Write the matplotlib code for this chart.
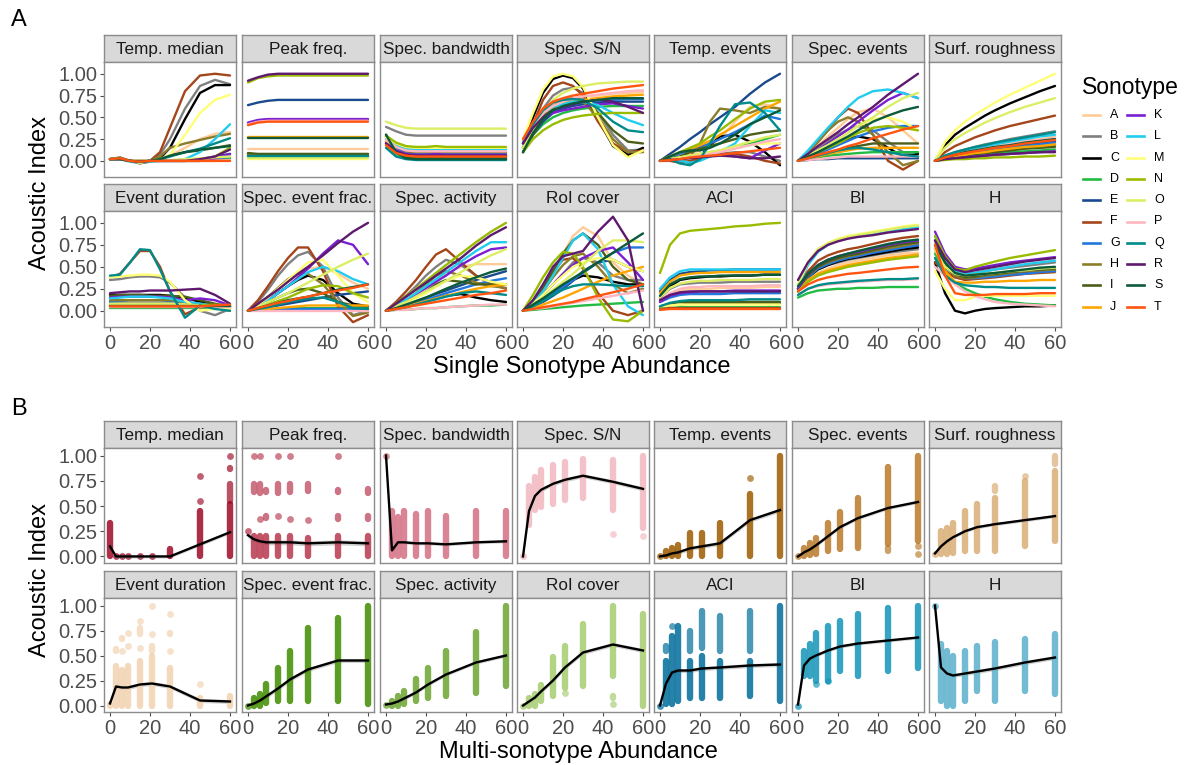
import matplotlib
matplotlib.use("Agg")
import matplotlib.pyplot as plt

plt.rcParams['font.family'] = ['Liberation Sans', 'DejaVu Sans']

W, H = 1185, 765

# Sonotipos y colores
sonotypes = list("ABCDEFGHIJKLMNOPQRST")
sonotype_colors = ["#FFCC99", "#808080", "#000000", "#22BB44", "#1A4A8E", "#A5451A",
                   "#2277DD", "#8B7D2A", "#4B5E1A", "#FFA500", "#7B1FD0", "#22CCEE",
                   "#FFFF77", "#99BB00", "#DDEE66", "#FFB6C1", "#008B8B", "#5E1A6E",
                   "#0B5A3A", "#FF5511"]

index_names = ["Temp. median", "Peak freq.", "Spec. bandwidth", "Spec. S/N", "Temp. events",
               "Spec. events", "Surf. roughness", "Event duration", "Spec. event frac.",
               "Spec. activity", "RoI cover", "ACI", "BI", "H"]

# ---- Panel A: curvas por sonotipo (A..T), valores en abund_single ----
abund_single = [0, 5, 10, 15, 20, 25, 30, 37.5, 45, 52.5, 60]

a_temp_median = [
    [0.02, 0.03, 0.0, -0.01, 0.0, 0.02, 0.06, 0.15, 0.25, 0.31, 0.33],
    [0.02, 0.03, 0.0, -0.02, 0.0, 0.07, 0.25, 0.6, 0.86, 0.93, 0.88],
    [0.02, 0.03, 0.0, -0.02, -0.01, 0.03, 0.15, 0.48, 0.78, 0.87, 0.87],
    [0.02, 0.02, 0.0, 0.0, 0.0, 0.0, 0.0, 0.0, 0.01, 0.02, 0.03],
    [0.02, 0.02, 0.0, -0.01, 0.0, 0.0, 0.0, 0.0, 0.02, 0.05, 0.08],
    [0.02, 0.04, 0.0, -0.03, 0.0, 0.1, 0.38, 0.8, 0.98, 1.0, 0.98],
    [0.02, 0.02, 0.0, -0.01, 0.0, 0.0, 0.0, 0.0, 0.0, 0.02, 0.05],
    [0.02, 0.03, 0.0, -0.02, 0.0, 0.05, 0.15, 0.2, 0.24, 0.28, 0.31],
    [0.02, 0.02, 0.0, -0.01, 0.0, 0.02, 0.06, 0.1, 0.12, 0.15, 0.18],
    [0.02, 0.02, 0.0, 0.0, 0.0, 0.0, 0.0, 0.0, 0.0, 0.0, 0.0],
    [0.02, 0.02, 0.0, 0.0, 0.0, 0.0, 0.0, 0.0, 0.0, 0.03, 0.08],
    [0.02, 0.02, -0.01, -0.02, -0.01, 0.0, 0.0, 0.02, 0.1, 0.25, 0.42],
    [0.02, 0.03, 0.0, -0.02, 0.0, 0.02, 0.07, 0.3, 0.55, 0.7, 0.76],
    [0.02, 0.02, 0.0, 0.0, 0.0, 0.0, 0.0, 0.0, 0.0, 0.05, 0.15],
    [0.02, 0.02, 0.0, 0.0, 0.0, 0.0, 0.01, 0.02, 0.03, 0.04, 0.05],
    [0.02, 0.02, 0.0, 0.0, 0.0, 0.0, 0.0, 0.0, 0.0, 0.0, 0.01],
    [0.02, 0.03, 0.0, -0.01, 0.0, 0.02, 0.05, 0.1, 0.14, 0.2, 0.26],
    [0.02, 0.02, 0.0, -0.01, 0.0, 0.0, 0.0, 0.0, 0.02, 0.05, 0.13],
    [0.02, 0.02, 0.0, -0.01, 0.0, 0.02, 0.06, 0.1, 0.13, 0.15, 0.17],
    [0.02, 0.03, 0.0, -0.01, 0.0, 0.0, 0.0, 0.0, 0.0, 0.0, 0.0],
]

a_peak_freq = [
    [0.14, 0.14, 0.14, 0.14, 0.14, 0.14, 0.14, 0.14, 0.14, 0.14, 0.14],
    [0.07, 0.06, 0.05, 0.05, 0.05, 0.05, 0.05, 0.05, 0.05, 0.05, 0.05],
    [0.08, 0.07, 0.06, 0.06, 0.06, 0.06, 0.06, 0.06, 0.06, 0.06, 0.06],
    [0.06, 0.06, 0.06, 0.06, 0.06, 0.06, 0.06, 0.06, 0.06, 0.06, 0.06],
    [0.64, 0.67, 0.69, 0.7, 0.7, 0.7, 0.7, 0.7, 0.7, 0.7, 0.7],
    [0.07, 0.05, 0.04, 0.04, 0.04, 0.04, 0.04, 0.04, 0.04, 0.04, 0.04],
    [0.43, 0.46, 0.47, 0.47, 0.47, 0.47, 0.47, 0.47, 0.47, 0.47, 0.47],
    [0.08, 0.07, 0.07, 0.07, 0.07, 0.07, 0.07, 0.07, 0.07, 0.07, 0.07],
    [0.09, 0.08, 0.08, 0.08, 0.08, 0.08, 0.08, 0.08, 0.08, 0.08, 0.08],
    [0.27, 0.27, 0.27, 0.27, 0.27, 0.27, 0.27, 0.27, 0.27, 0.27, 0.27],
    [0.44, 0.47, 0.48, 0.48, 0.48, 0.48, 0.48, 0.48, 0.48, 0.48, 0.48],
    [0.04, 0.04, 0.04, 0.04, 0.04, 0.04, 0.04, 0.04, 0.04, 0.04, 0.04],
    [0.02, 0.02, 0.02, 0.02, 0.02, 0.02, 0.02, 0.02, 0.02, 0.02, 0.02],
    [0.9, 0.95, 0.97, 0.98, 0.98, 0.98, 0.98, 0.98, 0.98, 0.98, 0.98],
    [0.03, 0.03, 0.03, 0.03, 0.03, 0.03, 0.03, 0.03, 0.03, 0.03, 0.03],
    [0.42, 0.45, 0.46, 0.46, 0.46, 0.46, 0.46, 0.46, 0.46, 0.46, 0.46],
    [0.06, 0.06, 0.06, 0.06, 0.06, 0.06, 0.06, 0.06, 0.06, 0.06, 0.06],
    [0.92, 0.96, 0.99, 1.0, 1.0, 1.0, 1.0, 1.0, 1.0, 1.0, 1.0],
    [0.26, 0.26, 0.26, 0.26, 0.26, 0.26, 0.26, 0.26, 0.26, 0.26, 0.26],
    [0.41, 0.44, 0.45, 0.45, 0.45, 0.45, 0.45, 0.45, 0.45, 0.45, 0.45],
]

a_spec_bandwidth = [
    [0.25, 0.17, 0.13, 0.12, 0.12, 0.12, 0.12, 0.12, 0.12, 0.12, 0.12],
    [0.39, 0.34, 0.3, 0.29, 0.29, 0.29, 0.29, 0.29, 0.29, 0.29, 0.29],
    [0.3, 0.12, 0.04, 0.03, 0.03, 0.03, 0.03, 0.03, 0.03, 0.03, 0.03],
    [0.18, 0.08, 0.03, 0.02, 0.02, 0.02, 0.02, 0.02, 0.02, 0.02, 0.02],
    [0.22, 0.1, 0.05, 0.04, 0.04, 0.04, 0.04, 0.04, 0.04, 0.04, 0.04],
    [0.2, 0.1, 0.06, 0.05, 0.05, 0.05, 0.05, 0.05, 0.05, 0.05, 0.05],
    [0.25, 0.15, 0.1, 0.09, 0.09, 0.09, 0.09, 0.09, 0.09, 0.09, 0.09],
    [0.27, 0.17, 0.11, 0.1, 0.1, 0.1, 0.1, 0.1, 0.1, 0.1, 0.1],
    [0.28, 0.12, 0.04, 0.03, 0.03, 0.03, 0.03, 0.03, 0.03, 0.03, 0.03],
    [0.22, 0.12, 0.07, 0.06, 0.06, 0.06, 0.06, 0.06, 0.06, 0.06, 0.06],
    [0.2, 0.12, 0.08, 0.07, 0.07, 0.08, 0.07, 0.07, 0.07, 0.07, 0.07],
    [0.26, 0.18, 0.14, 0.13, 0.13, 0.13, 0.13, 0.13, 0.13, 0.13, 0.13],
    [0.27, 0.2, 0.16, 0.15, 0.15, 0.15, 0.15, 0.15, 0.15, 0.15, 0.15],
    [0.29, 0.21, 0.17, 0.16, 0.16, 0.17, 0.16, 0.16, 0.16, 0.16, 0.16],
    [0.45, 0.41, 0.38, 0.37, 0.37, 0.37, 0.37, 0.37, 0.37, 0.37, 0.37],
    [0.24, 0.16, 0.12, 0.11, 0.11, 0.11, 0.11, 0.11, 0.11, 0.11, 0.11],
    [0.15, 0.05, 0.02, 0.01, 0.01, 0.01, 0.01, 0.01, 0.01, 0.01, 0.01],
    [0.2, 0.11, 0.07, 0.06, 0.06, 0.06, 0.06, 0.06, 0.06, 0.06, 0.06],
    [0.3, 0.1, 0.03, 0.02, 0.02, 0.02, 0.02, 0.02, 0.02, 0.02, 0.02],
    [0.18, 0.09, 0.06, 0.05, 0.05, 0.05, 0.05, 0.05, 0.05, 0.05, 0.05],
]

a_spec_sn = [
    [0.22, 0.42, 0.58, 0.66, 0.7, 0.72, 0.73, 0.75, 0.77, 0.78, 0.79],
    [0.2, 0.4, 0.6, 0.75, 0.82, 0.84, 0.78, 0.55, 0.3, 0.12, 0.13],
    [0.2, 0.5, 0.78, 0.94, 0.98, 0.95, 0.83, 0.48, 0.17, 0.07, 0.15],
    [0.15, 0.3, 0.42, 0.5, 0.55, 0.58, 0.6, 0.62, 0.63, 0.63, 0.63],
    [0.1, 0.3, 0.45, 0.55, 0.6, 0.63, 0.65, 0.67, 0.68, 0.68, 0.68],
    [0.15, 0.42, 0.7, 0.86, 0.9, 0.86, 0.75, 0.45, 0.2, 0.1, 0.12],
    [0.2, 0.4, 0.52, 0.58, 0.62, 0.65, 0.67, 0.69, 0.7, 0.71, 0.71],
    [0.15, 0.35, 0.52, 0.63, 0.7, 0.72, 0.68, 0.5, 0.25, 0.1, 0.1],
    [0.1, 0.3, 0.48, 0.6, 0.68, 0.72, 0.7, 0.55, 0.35, 0.22, 0.2],
    [0.2, 0.4, 0.55, 0.62, 0.66, 0.68, 0.7, 0.72, 0.74, 0.75, 0.76],
    [0.25, 0.42, 0.5, 0.55, 0.58, 0.6, 0.62, 0.65, 0.66, 0.63, 0.6],
    [0.2, 0.42, 0.55, 0.62, 0.65, 0.68, 0.68, 0.64, 0.55, 0.47, 0.41],
    [0.25, 0.55, 0.82, 0.97, 1.0, 0.97, 0.85, 0.5, 0.18, 0.04, 0.12],
    [0.1, 0.25, 0.35, 0.42, 0.47, 0.5, 0.52, 0.54, 0.55, 0.55, 0.55],
    [0.15, 0.35, 0.55, 0.7, 0.78, 0.83, 0.86, 0.89, 0.9, 0.91, 0.91],
    [0.2, 0.4, 0.55, 0.63, 0.68, 0.72, 0.74, 0.76, 0.78, 0.8, 0.81],
    [0.2, 0.42, 0.58, 0.67, 0.7, 0.71, 0.7, 0.6, 0.45, 0.35, 0.33],
    [0.2, 0.38, 0.5, 0.58, 0.62, 0.65, 0.68, 0.7, 0.68, 0.62, 0.55],
    [0.1, 0.32, 0.48, 0.58, 0.63, 0.66, 0.68, 0.7, 0.72, 0.72, 0.72],
    [0.25, 0.45, 0.6, 0.68, 0.72, 0.75, 0.77, 0.8, 0.83, 0.85, 0.87],
]

a_temp_events = [
    [0.0, 0.02, 0.05, 0.08, 0.12, 0.18, 0.25, 0.45, 0.62, 0.65, 0.6],
    [0.0, 0.02, 0.03, 0.04, 0.05, 0.06, 0.08, 0.1, 0.1, 0.05, 0.0],
    [0.0, 0.02, 0.0, -0.02, 0.05, 0.18, 0.28, 0.3, 0.22, 0.1, -0.05],
    [0.0, 0.02, 0.04, 0.06, 0.08, 0.1, 0.12, 0.15, 0.2, 0.25, 0.3],
    [0.0, 0.08, 0.16, 0.25, 0.33, 0.42, 0.5, 0.62, 0.77, 0.9, 1.0],
    [0.0, 0.0, -0.02, 0.0, 0.03, 0.06, 0.08, 0.08, 0.05, 0.0, -0.03],
    [0.0, 0.04, 0.08, 0.12, 0.16, 0.2, 0.25, 0.33, 0.42, 0.52, 0.48],
    [0.0, 0.02, 0.0, 0.05, 0.2, 0.45, 0.6, 0.58, 0.55, 0.62, 0.6],
    [0.0, 0.02, 0.05, 0.1, 0.14, 0.17, 0.2, 0.25, 0.3, 0.33, 0.35],
    [0.0, 0.05, 0.1, 0.14, 0.18, 0.23, 0.3, 0.4, 0.5, 0.6, 0.68],
    [0.0, 0.02, 0.03, 0.05, 0.06, 0.07, 0.08, 0.05, 0.03, 0.12, 0.2],
    [0.0, 0.02, 0.0, -0.02, 0.0, 0.05, 0.1, 0.2, 0.4, 0.58, 0.55],
    [0.0, 0.02, 0.04, 0.06, 0.08, 0.1, 0.12, 0.15, 0.18, 0.2, 0.2],
    [0.0, 0.05, 0.1, 0.15, 0.2, 0.28, 0.35, 0.48, 0.6, 0.68, 0.7],
    [0.0, 0.02, 0.04, 0.06, 0.08, 0.1, 0.12, 0.17, 0.22, 0.27, 0.3],
    [0.0, 0.01, 0.02, 0.04, 0.06, 0.08, 0.1, 0.14, 0.18, 0.22, 0.25],
    [0.0, 0.02, -0.03, -0.05, 0.02, 0.2, 0.4, 0.65, 0.67, 0.55, 0.35],
    [0.0, 0.01, 0.02, 0.03, 0.04, 0.05, 0.06, 0.05, 0.03, 0.03, 0.05],
    [0.0, 0.05, 0.1, 0.12, 0.12, 0.15, 0.2, 0.3, 0.42, 0.5, 0.58],
    [0.0, 0.01, 0.02, 0.04, 0.05, 0.06, 0.07, 0.09, 0.11, 0.13, 0.15],
]

a_spec_events = [
    [0.0, 0.08, 0.18, 0.28, 0.38, 0.48, 0.56, 0.6, 0.5, 0.35, 0.2],
    [0.0, 0.06, 0.14, 0.22, 0.3, 0.36, 0.4, 0.35, 0.22, 0.1, 0.05],
    [0.0, 0.05, 0.1, 0.15, 0.2, 0.25, 0.28, 0.25, 0.15, 0.05, 0.08],
    [0.0, 0.02, 0.04, 0.06, 0.07, 0.08, 0.09, 0.1, 0.1, 0.1, 0.1],
    [0.0, 0.01, 0.02, 0.02, 0.03, 0.03, 0.03, 0.03, 0.03, 0.03, 0.03],
    [0.0, 0.1, 0.22, 0.35, 0.5, 0.6, 0.55, 0.3, 0.0, -0.1, 0.0],
    [0.0, 0.04, 0.08, 0.13, 0.18, 0.23, 0.28, 0.34, 0.38, 0.4, 0.4],
    [0.0, 0.1, 0.22, 0.35, 0.45, 0.5, 0.45, 0.3, 0.1, -0.05, 0.0],
    [0.0, 0.03, 0.06, 0.09, 0.12, 0.15, 0.17, 0.2, 0.2, 0.2, 0.2],
    [0.0, 0.03, 0.05, 0.08, 0.1, 0.12, 0.14, 0.15, 0.15, 0.15, 0.15],
    [0.0, 0.06, 0.12, 0.2, 0.28, 0.36, 0.45, 0.58, 0.7, 0.78, 0.72],
    [0.0, 0.12, 0.25, 0.38, 0.5, 0.62, 0.72, 0.8, 0.82, 0.78, 0.72],
    [0.0, 0.06, 0.12, 0.18, 0.25, 0.32, 0.4, 0.48, 0.5, 0.45, 0.35],
    [0.0, 0.05, 0.1, 0.15, 0.2, 0.26, 0.32, 0.38, 0.4, 0.38, 0.35],
    [0.0, 0.06, 0.12, 0.18, 0.25, 0.32, 0.4, 0.5, 0.62, 0.72, 0.78],
    [0.0, 0.01, 0.02, 0.03, 0.04, 0.05, 0.05, 0.05, 0.05, 0.05, 0.05],
    [0.0, 0.03, 0.06, 0.09, 0.12, 0.14, 0.15, 0.13, 0.1, 0.07, 0.05],
    [0.0, 0.08, 0.17, 0.25, 0.33, 0.42, 0.5, 0.62, 0.76, 0.88, 1.0],
    [0.0, 0.05, 0.1, 0.16, 0.22, 0.28, 0.35, 0.45, 0.52, 0.58, 0.62],
    [0.0, 0.03, 0.07, 0.1, 0.13, 0.17, 0.2, 0.26, 0.31, 0.36, 0.4],
]

a_surf_roughness = [
    [0.0, 0.05, 0.08, 0.11, 0.13, 0.15, 0.17, 0.2, 0.23, 0.25, 0.28],
    [0.0, 0.06, 0.1, 0.13, 0.16, 0.19, 0.21, 0.25, 0.28, 0.31, 0.34],
    [0.0, 0.18, 0.3, 0.38, 0.45, 0.52, 0.58, 0.66, 0.73, 0.8, 0.86],
    [0.0, 0.02, 0.04, 0.05, 0.06, 0.07, 0.08, 0.1, 0.11, 0.12, 0.13],
    [0.0, 0.04, 0.06, 0.08, 0.1, 0.12, 0.14, 0.16, 0.18, 0.2, 0.22],
    [0.0, 0.1, 0.17, 0.22, 0.27, 0.31, 0.35, 0.4, 0.44, 0.48, 0.52],
    [0.0, 0.03, 0.06, 0.08, 0.1, 0.11, 0.13, 0.15, 0.17, 0.19, 0.21],
    [0.0, 0.03, 0.05, 0.07, 0.08, 0.1, 0.11, 0.13, 0.15, 0.16, 0.18],
    [0.0, 0.03, 0.05, 0.06, 0.08, 0.09, 0.1, 0.12, 0.14, 0.15, 0.16],
    [0.0, 0.03, 0.05, 0.07, 0.09, 0.1, 0.12, 0.14, 0.16, 0.17, 0.19],
    [0.0, 0.02, 0.03, 0.04, 0.05, 0.06, 0.07, 0.08, 0.09, 0.1, 0.11],
    [0.0, 0.05, 0.09, 0.12, 0.14, 0.17, 0.19, 0.22, 0.25, 0.28, 0.3],
    [0.0, 0.22, 0.35, 0.45, 0.53, 0.6, 0.67, 0.76, 0.84, 0.92, 1.0],
    [0.0, 0.01, 0.02, 0.02, 0.03, 0.03, 0.04, 0.04, 0.05, 0.05, 0.06],
    [0.0, 0.15, 0.25, 0.32, 0.38, 0.44, 0.49, 0.56, 0.62, 0.67, 0.72],
    [0.0, 0.05, 0.08, 0.1, 0.12, 0.14, 0.16, 0.19, 0.22, 0.24, 0.26],
    [0.0, 0.06, 0.1, 0.13, 0.16, 0.18, 0.21, 0.24, 0.27, 0.3, 0.33],
    [0.0, 0.02, 0.03, 0.04, 0.05, 0.06, 0.07, 0.08, 0.09, 0.1, 0.1],
    [0.0, 0.04, 0.07, 0.1, 0.12, 0.14, 0.16, 0.18, 0.21, 0.23, 0.25],
    [0.0, 0.04, 0.07, 0.09, 0.11, 0.13, 0.15, 0.17, 0.2, 0.22, 0.24],
]

a_event_duration = [
    [0.1, 0.1, 0.1, 0.1, 0.1, 0.1, 0.1, 0.08, 0.06, 0.04, 0.04],
    [0.35, 0.36, 0.38, 0.39, 0.39, 0.38, 0.32, 0.15, 0.0, -0.05, 0.02],
    [0.18, 0.18, 0.18, 0.18, 0.18, 0.18, 0.17, 0.15, 0.1, 0.06, 0.05],
    [0.03, 0.03, 0.03, 0.03, 0.03, 0.03, 0.03, 0.03, 0.03, 0.03, 0.03],
    [0.08, 0.08, 0.08, 0.08, 0.08, 0.08, 0.08, 0.06, 0.05, 0.05, 0.05],
    [0.38, 0.42, 0.55, 0.68, 0.68, 0.5, 0.22, -0.04, 0.04, 0.05, 0.0],
    [0.1, 0.11, 0.12, 0.12, 0.12, 0.12, 0.11, 0.1, 0.08, 0.06, 0.06],
    [0.12, 0.12, 0.12, 0.12, 0.12, 0.12, 0.12, 0.1, 0.06, 0.03, 0.03],
    [0.17, 0.18, 0.18, 0.18, 0.17, 0.17, 0.17, 0.16, 0.12, 0.08, 0.05],
    [0.07, 0.07, 0.07, 0.07, 0.07, 0.07, 0.07, 0.07, 0.07, 0.07, 0.07],
    [0.15, 0.16, 0.16, 0.16, 0.16, 0.16, 0.15, 0.12, 0.14, 0.12, 0.06],
    [0.14, 0.15, 0.16, 0.16, 0.16, 0.15, 0.14, 0.1, 0.08, 0.05, 0.04],
    [0.38, 0.39, 0.4, 0.41, 0.41, 0.4, 0.33, 0.12, 0.0, 0.02, 0.02],
    [0.06, 0.06, 0.06, 0.06, 0.06, 0.06, 0.06, 0.06, 0.06, 0.06, 0.06],
    [0.08, 0.08, 0.08, 0.08, 0.08, 0.08, 0.08, 0.07, 0.06, 0.05, 0.05],
    [0.04, 0.04, 0.04, 0.04, 0.04, 0.04, 0.04, 0.04, 0.04, 0.04, 0.04],
    [0.4, 0.41, 0.55, 0.7, 0.69, 0.47, 0.22, -0.08, 0.06, 0.02, 0.0],
    [0.2, 0.21, 0.22, 0.22, 0.23, 0.23, 0.23, 0.24, 0.25, 0.18, 0.08],
    [0.05, 0.05, 0.05, 0.05, 0.05, 0.05, 0.05, 0.05, 0.05, 0.05, 0.05],
    [0.05, 0.05, 0.05, 0.05, 0.05, 0.05, 0.05, 0.05, 0.05, 0.06, 0.07],
]

a_spec_event_frac = [
    [0.0, 0.07, 0.15, 0.24, 0.33, 0.42, 0.48, 0.5, 0.42, 0.32, 0.25],
    [0.0, 0.1, 0.24, 0.4, 0.53, 0.63, 0.67, 0.5, 0.15, -0.05, 0.0],
    [0.0, 0.05, 0.12, 0.2, 0.28, 0.35, 0.4, 0.35, 0.2, 0.08, 0.05],
    [0.0, 0.01, 0.01, 0.02, 0.02, 0.03, 0.03, 0.03, 0.03, 0.03, 0.03],
    [0.0, 0.02, 0.04, 0.06, 0.08, 0.1, 0.12, 0.15, 0.18, 0.2, 0.22],
    [0.0, 0.12, 0.28, 0.45, 0.6, 0.72, 0.72, 0.45, 0.05, -0.13, -0.05],
    [0.0, 0.01, 0.01, 0.02, 0.02, 0.02, 0.02, 0.02, 0.02, 0.02, 0.02],
    [0.0, 0.07, 0.16, 0.26, 0.36, 0.42, 0.42, 0.3, 0.1, -0.06, -0.02],
    [0.0, 0.04, 0.1, 0.15, 0.2, 0.24, 0.25, 0.2, 0.1, 0.06, 0.05],
    [0.0, 0.01, 0.02, 0.03, 0.04, 0.05, 0.06, 0.06, 0.06, 0.06, 0.06],
    [0.0, 0.06, 0.12, 0.2, 0.28, 0.38, 0.48, 0.65, 0.8, 0.75, 0.53],
    [0.0, 0.05, 0.12, 0.2, 0.28, 0.36, 0.44, 0.5, 0.45, 0.36, 0.3],
    [0.0, 0.07, 0.15, 0.25, 0.35, 0.45, 0.55, 0.58, 0.4, 0.2, 0.1],
    [0.0, 0.03, 0.07, 0.11, 0.15, 0.2, 0.25, 0.29, 0.28, 0.2, 0.15],
    [0.0, 0.05, 0.1, 0.15, 0.2, 0.26, 0.32, 0.41, 0.5, 0.58, 0.65],
    [0.0, 0.0, 0.0, 0.0, 0.0, 0.0, 0.0, 0.0, 0.0, 0.0, 0.0],
    [0.0, 0.02, 0.04, 0.07, 0.1, 0.12, 0.14, 0.15, 0.1, 0.03, 0.02],
    [0.0, 0.08, 0.16, 0.24, 0.33, 0.42, 0.5, 0.63, 0.77, 0.9, 1.0],
    [0.0, 0.03, 0.06, 0.09, 0.12, 0.14, 0.16, 0.2, 0.24, 0.27, 0.3],
    [0.0, 0.03, 0.06, 0.09, 0.11, 0.14, 0.16, 0.2, 0.23, 0.26, 0.3],
]

a_spec_activity = [
    [0.0, 0.05, 0.11, 0.18, 0.26, 0.34, 0.42, 0.5, 0.53, 0.53, 0.53],
    [0.0, 0.08, 0.17, 0.28, 0.4, 0.5, 0.58, 0.52, 0.4, 0.32, 0.3],
    [0.0, 0.02, 0.05, 0.08, 0.11, 0.14, 0.17, 0.19, 0.15, 0.12, 0.1],
    [0.0, 0.01, 0.01, 0.02, 0.03, 0.03, 0.04, 0.05, 0.06, 0.06, 0.07],
    [0.0, 0.03, 0.07, 0.11, 0.15, 0.19, 0.23, 0.29, 0.35, 0.4, 0.45],
    [0.0, 0.1, 0.22, 0.35, 0.5, 0.64, 0.7, 0.55, 0.4, 0.3, 0.25],
    [0.0, 0.03, 0.06, 0.09, 0.13, 0.16, 0.2, 0.25, 0.3, 0.34, 0.37],
    [0.0, 0.05, 0.12, 0.2, 0.3, 0.4, 0.45, 0.4, 0.32, 0.28, 0.26],
    [0.0, 0.04, 0.09, 0.15, 0.22, 0.3, 0.35, 0.33, 0.3, 0.3, 0.3],
    [0.0, 0.02, 0.05, 0.08, 0.11, 0.14, 0.17, 0.21, 0.25, 0.28, 0.3],
    [0.0, 0.06, 0.12, 0.19, 0.26, 0.33, 0.4, 0.52, 0.62, 0.7, 0.72],
    [0.0, 0.06, 0.13, 0.2, 0.28, 0.36, 0.44, 0.56, 0.68, 0.78, 0.78],
    [0.0, 0.04, 0.09, 0.14, 0.2, 0.27, 0.34, 0.4, 0.38, 0.33, 0.3],
    [0.0, 0.08, 0.17, 0.25, 0.34, 0.43, 0.52, 0.65, 0.78, 0.9, 1.0],
    [0.0, 0.05, 0.1, 0.16, 0.22, 0.28, 0.34, 0.44, 0.54, 0.63, 0.7],
    [0.0, 0.01, 0.01, 0.02, 0.03, 0.03, 0.04, 0.05, 0.06, 0.07, 0.07],
    [0.0, 0.02, 0.04, 0.07, 0.1, 0.13, 0.16, 0.2, 0.22, 0.2, 0.18],
    [0.0, 0.08, 0.16, 0.24, 0.32, 0.4, 0.48, 0.6, 0.74, 0.86, 0.95],
    [0.0, 0.03, 0.07, 0.11, 0.15, 0.2, 0.25, 0.32, 0.38, 0.44, 0.48],
    [0.0, 0.02, 0.04, 0.06, 0.08, 0.1, 0.12, 0.15, 0.18, 0.2, 0.23],
]

a_roi_cover = [
    [0.0, 0.1, 0.25, 0.45, 0.65, 0.85, 0.95, 0.85, 0.55, 0.4, 0.3],
    [0.0, 0.08, 0.18, 0.3, 0.42, 0.55, 0.6, 0.55, 0.4, 0.35, 0.35],
    [0.0, 0.05, 0.12, 0.2, 0.28, 0.35, 0.4, 0.38, 0.33, 0.3, 0.3],
    [0.0, 0.01, 0.02, 0.03, 0.04, 0.05, 0.06, 0.07, 0.08, 0.09, 0.1],
    [0.0, 0.05, 0.1, 0.17, 0.25, 0.34, 0.45, 0.55, 0.58, 0.5, 0.45],
    [0.0, 0.1, 0.25, 0.45, 0.58, 0.6, 0.48, 0.2, 0.0, -0.05, 0.0],
    [0.0, 0.06, 0.12, 0.2, 0.27, 0.35, 0.43, 0.55, 0.66, 0.72, 0.72],
    [0.0, 0.1, 0.22, 0.38, 0.52, 0.62, 0.65, 0.5, 0.3, 0.2, 0.25],
    [0.0, 0.1, 0.25, 0.45, 0.65, 0.8, 0.88, 0.75, 0.5, 0.35, 0.3],
    [0.0, 0.03, 0.07, 0.11, 0.15, 0.2, 0.25, 0.33, 0.4, 0.45, 0.5],
    [0.0, 0.08, 0.18, 0.3, 0.42, 0.52, 0.6, 0.68, 0.72, 0.55, 0.35],
    [0.0, 0.08, 0.22, 0.4, 0.6, 0.8, 0.88, 0.7, 0.3, 0.05, -0.05],
    [0.0, 0.08, 0.18, 0.3, 0.4, 0.5, 0.55, 0.6, 0.58, 0.5, 0.45],
    [0.0, 0.18, 0.38, 0.55, 0.67, 0.65, 0.5, 0.15, -0.1, -0.12, 0.0],
    [0.0, 0.07, 0.15, 0.24, 0.33, 0.42, 0.52, 0.68, 0.8, 0.8, 0.78],
    [0.0, 0.02, 0.03, 0.05, 0.07, 0.09, 0.11, 0.14, 0.17, 0.2, 0.23],
    [0.0, 0.05, 0.11, 0.18, 0.24, 0.28, 0.3, 0.3, 0.29, 0.28, 0.28],
    [0.0, 0.12, 0.3, 0.5, 0.62, 0.65, 0.68, 0.9, 1.07, 0.8, 0.0],
    [0.0, 0.07, 0.14, 0.22, 0.3, 0.37, 0.44, 0.55, 0.66, 0.77, 0.88],
    [0.0, 0.02, 0.04, 0.06, 0.08, 0.1, 0.13, 0.17, 0.21, 0.25, 0.3],
]

a_aci = [
    [0.1, 0.18, 0.23, 0.25, 0.25, 0.25, 0.26, 0.26, 0.26, 0.27, 0.27],
    [0.15, 0.25, 0.3, 0.31, 0.32, 0.32, 0.32, 0.33, 0.33, 0.33, 0.33],
    [0.15, 0.28, 0.35, 0.37, 0.38, 0.39, 0.39, 0.4, 0.4, 0.41, 0.41],
    [0.02, 0.03, 0.04, 0.04, 0.04, 0.04, 0.04, 0.04, 0.04, 0.04, 0.04],
    [0.22, 0.35, 0.42, 0.44, 0.45, 0.46, 0.46, 0.47, 0.47, 0.47, 0.47],
    [0.02, 0.03, 0.03, 0.03, 0.03, 0.03, 0.03, 0.03, 0.03, 0.03, 0.03],
    [0.1, 0.15, 0.18, 0.19, 0.19, 0.19, 0.19, 0.2, 0.2, 0.2, 0.2],
    [0.03, 0.06, 0.07, 0.08, 0.08, 0.08, 0.08, 0.08, 0.08, 0.08, 0.08],
    [0.05, 0.08, 0.1, 0.1, 0.1, 0.1, 0.1, 0.1, 0.1, 0.1, 0.1],
    [0.2, 0.33, 0.4, 0.42, 0.43, 0.43, 0.44, 0.44, 0.44, 0.44, 0.44],
    [0.1, 0.17, 0.2, 0.21, 0.22, 0.22, 0.22, 0.23, 0.23, 0.23, 0.23],
    [0.25, 0.38, 0.45, 0.47, 0.47, 0.47, 0.47, 0.47, 0.47, 0.47, 0.47],
    [0.05, 0.06, 0.07, 0.07, 0.07, 0.07, 0.07, 0.07, 0.07, 0.07, 0.07],
    [0.43, 0.75, 0.88, 0.91, 0.92, 0.93, 0.94, 0.96, 0.97, 0.99, 1.0],
    [0.15, 0.26, 0.31, 0.33, 0.34, 0.34, 0.35, 0.35, 0.35, 0.36, 0.36],
    [0.12, 0.2, 0.25, 0.27, 0.27, 0.28, 0.28, 0.28, 0.28, 0.29, 0.29],
    [0.05, 0.09, 0.11, 0.12, 0.12, 0.12, 0.12, 0.12, 0.13, 0.13, 0.13],
    [0.12, 0.18, 0.21, 0.22, 0.22, 0.22, 0.22, 0.22, 0.22, 0.22, 0.22],
    [0.17, 0.3, 0.36, 0.38, 0.39, 0.39, 0.4, 0.4, 0.4, 0.41, 0.41],
    [0.01, 0.02, 0.02, 0.02, 0.02, 0.02, 0.02, 0.02, 0.02, 0.02, 0.02],
]

a_bi = [
    [0.25, 0.35, 0.43, 0.48, 0.52, 0.55, 0.57, 0.6, 0.63, 0.65, 0.66],
    [0.25, 0.38, 0.47, 0.52, 0.55, 0.58, 0.6, 0.63, 0.66, 0.68, 0.7],
    [0.25, 0.38, 0.47, 0.52, 0.56, 0.59, 0.61, 0.64, 0.67, 0.7, 0.72],
    [0.15, 0.2, 0.23, 0.24, 0.25, 0.25, 0.26, 0.26, 0.27, 0.27, 0.27],
    [0.25, 0.4, 0.5, 0.55, 0.58, 0.61, 0.63, 0.66, 0.69, 0.72, 0.74],
    [0.3, 0.45, 0.57, 0.63, 0.67, 0.7, 0.72, 0.76, 0.8, 0.83, 0.85],
    [0.22, 0.38, 0.48, 0.53, 0.57, 0.6, 0.62, 0.66, 0.69, 0.72, 0.75],
    [0.25, 0.4, 0.5, 0.55, 0.59, 0.62, 0.64, 0.68, 0.71, 0.74, 0.77],
    [0.25, 0.4, 0.5, 0.56, 0.6, 0.63, 0.65, 0.69, 0.73, 0.76, 0.78],
    [0.22, 0.35, 0.42, 0.46, 0.49, 0.52, 0.54, 0.57, 0.6, 0.62, 0.64],
    [0.25, 0.42, 0.52, 0.58, 0.62, 0.65, 0.67, 0.71, 0.75, 0.78, 0.8],
    [0.28, 0.52, 0.67, 0.75, 0.8, 0.83, 0.85, 0.88, 0.91, 0.93, 0.95],
    [0.3, 0.55, 0.7, 0.77, 0.82, 0.85, 0.87, 0.9, 0.93, 0.96, 0.98],
    [0.22, 0.33, 0.4, 0.44, 0.47, 0.5, 0.52, 0.55, 0.58, 0.6, 0.62],
    [0.3, 0.55, 0.7, 0.77, 0.81, 0.84, 0.86, 0.89, 0.92, 0.95, 0.97],
    [0.18, 0.25, 0.28, 0.3, 0.31, 0.32, 0.33, 0.34, 0.35, 0.35, 0.36],
    [0.18, 0.25, 0.29, 0.31, 0.32, 0.33, 0.34, 0.35, 0.36, 0.36, 0.37],
    [0.35, 0.55, 0.68, 0.75, 0.79, 0.82, 0.84, 0.86, 0.89, 0.91, 0.93],
    [0.28, 0.42, 0.52, 0.58, 0.62, 0.65, 0.68, 0.72, 0.76, 0.79, 0.81],
    [0.22, 0.3, 0.35, 0.38, 0.4, 0.42, 0.43, 0.45, 0.47, 0.49, 0.5],
]

a_h = [
    [0.6, 0.45, 0.38, 0.36, 0.37, 0.38, 0.39, 0.41, 0.42, 0.43, 0.44],
    [0.55, 0.48, 0.44, 0.42, 0.43, 0.45, 0.47, 0.49, 0.51, 0.53, 0.55],
    [0.55, 0.2, 0.0, -0.03, 0.0, 0.02, 0.03, 0.04, 0.05, 0.05, 0.06],
    [0.65, 0.45, 0.32, 0.25, 0.2, 0.16, 0.13, 0.1, 0.08, 0.07, 0.06],
    [0.75, 0.52, 0.4, 0.38, 0.39, 0.4, 0.41, 0.43, 0.44, 0.45, 0.46],
    [0.55, 0.45, 0.38, 0.35, 0.36, 0.37, 0.38, 0.4, 0.42, 0.43, 0.44],
    [0.7, 0.5, 0.4, 0.37, 0.37, 0.38, 0.39, 0.41, 0.42, 0.44, 0.45],
    [0.7, 0.5, 0.4, 0.37, 0.38, 0.4, 0.41, 0.43, 0.45, 0.46, 0.47],
    [0.8, 0.55, 0.42, 0.38, 0.39, 0.41, 0.42, 0.44, 0.46, 0.47, 0.48],
    [0.7, 0.45, 0.33, 0.32, 0.32, 0.33, 0.33, 0.34, 0.34, 0.35, 0.35],
    [0.9, 0.65, 0.5, 0.47, 0.48, 0.5, 0.52, 0.55, 0.57, 0.59, 0.61],
    [0.85, 0.6, 0.46, 0.42, 0.43, 0.45, 0.47, 0.5, 0.53, 0.55, 0.57],
    [0.45, 0.25, 0.12, 0.12, 0.16, 0.17, 0.17, 0.17, 0.17, 0.17, 0.17],
    [0.85, 0.62, 0.48, 0.46, 0.5, 0.53, 0.56, 0.6, 0.63, 0.66, 0.69],
    [0.7, 0.5, 0.42, 0.4, 0.41, 0.42, 0.43, 0.45, 0.46, 0.48, 0.49],
    [0.5, 0.4, 0.3, 0.22, 0.17, 0.13, 0.1, 0.08, 0.07, 0.06, 0.05],
    [0.6, 0.4, 0.32, 0.29, 0.28, 0.27, 0.27, 0.26, 0.26, 0.26, 0.26],
    [0.8, 0.6, 0.47, 0.44, 0.46, 0.48, 0.5, 0.53, 0.56, 0.58, 0.6],
    [0.75, 0.55, 0.43, 0.4, 0.41, 0.42, 0.43, 0.45, 0.47, 0.49, 0.5],
    [0.75, 0.4, 0.2, 0.18, 0.18, 0.18, 0.19, 0.19, 0.19, 0.2, 0.2],
]

a_panels = [a_temp_median, a_peak_freq, a_spec_bandwidth, a_spec_sn, a_temp_events,
            a_spec_events, a_surf_roughness, a_event_duration, a_spec_event_frac,
            a_spec_activity, a_roi_cover, a_aci, a_bi, a_h]

# ---- Panel B: puntos por abundancia multi-sonotipo ----
abund_multi = [0, 3, 6, 9, 15, 21, 30, 45, 60]

multi_colors = ["#9E0A27", "#B8384F", "#D47083", "#F2B8C0", "#9C5A00", "#B87A2A", "#D9AD75",
                "#F2D2B0", "#3F8C00", "#6BA530", "#A6CC70", "#006C99", "#1495B8", "#5BB0CC"]

# columna densa de puntos: limite inferior y superior en cada abundancia
b_low = [
    [0.0, 0.0, 0.0, 0.0, 0.0, 0.0, 0.0, 0.0, 0.0],
    [0.25, 0.0, 0.0, 0.0, 0.0, 0.0, 0.0, 0.0, 0.0],
    [1.0, 0.0, 0.0, 0.0, 0.0, 0.0, 0.0, 0.0, 0.0],
    [0.0, 0.31, 0.46, 0.49, 0.52, 0.56, 0.58, 0.46, 0.28],
    [0.0, 0.0, 0.0, 0.0, 0.0, 0.0, 0.0, 0.0, 0.0],
    [0.0, 0.0, 0.01, 0.02, 0.05, 0.07, 0.08, 0.12, 0.15],
    [0.02, 0.02, 0.02, 0.03, 0.05, 0.05, 0.05, 0.1, 0.15],
    [0.0, 0.0, 0.0, 0.0, 0.0, 0.0, 0.0, 0.0, 0.0],
    [0.0, 0.0, 0.0, 0.03, 0.05, 0.05, 0.05, 0.05, 0.02],
    [0.01, 0.0, 0.0, 0.02, 0.05, 0.08, 0.1, 0.13, 0.2],
    [0.0, 0.0, 0.0, 0.05, 0.1, 0.18, 0.2, 0.3, 0.0],
    [0.0, 0.02, 0.02, 0.05, 0.08, 0.08, 0.08, 0.1, 0.05],
    [0.0, 0.3, 0.3, 0.25, 0.25, 0.35, 0.3, 0.35, 0.38],
    [1.0, 0.05, 0.0, 0.0, 0.05, 0.15, 0.05, 0.15, 0.12],
]
b_high = [
    [0.33, 0.0, 0.0, 0.0, 0.0, 0.0, 0.07, 0.45, 0.52],
    [0.25, 0.2, 0.2, 0.2, 0.2, 0.2, 0.18, 0.2, 0.2],
    [1.0, 0.45, 0.39, 0.45, 0.42, 0.45, 0.4, 0.45, 0.45],
    [0.0, 0.7, 0.79, 0.86, 0.91, 0.94, 0.97, 0.96, 1.0],
    [0.0, 0.05, 0.08, 0.11, 0.23, 0.23, 0.33, 0.62, 1.0],
    [0.0, 0.08, 0.13, 0.18, 0.33, 0.44, 0.58, 0.89, 1.0],
    [0.02, 0.25, 0.28, 0.33, 0.45, 0.52, 0.58, 0.75, 0.85],
    [0.02, 0.4, 0.36, 0.4, 0.45, 0.5, 0.38, 0.08, 0.1],
    [0.0, 0.08, 0.12, 0.22, 0.38, 0.55, 0.78, 0.88, 1.0],
    [0.01, 0.05, 0.1, 0.15, 0.27, 0.38, 0.55, 0.74, 1.0],
    [0.0, 0.08, 0.12, 0.21, 0.49, 0.6, 0.82, 1.0, 0.92],
    [0.0, 0.45, 0.7, 0.8, 0.45, 0.5, 0.45, 0.45, 1.0],
    [0.0, 0.55, 0.62, 0.73, 0.8, 0.85, 0.92, 0.98, 1.0],
    [1.0, 0.62, 0.55, 0.5, 0.55, 0.6, 0.64, 0.67, 0.72],
]
# puntos sueltos o grupos separados: (abundancia, desde, hasta)
b_extra = [
    [(45, 0.55, 0.55), (45, 0.8, 0.8), (60, 0.55, 0.72), (60, 0.87, 0.88), (60, 1.0, 1.0)],
    [(3, 0.64, 0.72), (3, 1.0, 1.0), (6, 0.63, 0.72), (6, 0.37, 0.37), (6, 1.0, 1.0),
     (9, 0.64, 0.66), (9, 0.38, 0.4), (15, 0.63, 0.72), (15, 0.4, 0.4), (15, 1.0, 1.0),
     (21, 0.64, 0.72), (21, 0.37, 0.37), (21, 1.0, 1.0), (30, 0.65, 0.72), (30, 0.36, 0.36),
     (45, 0.64, 0.66), (45, 0.37, 0.4), (45, 1.0, 1.0), (60, 0.63, 0.67), (60, 0.37, 0.4)],
    [],
    [(45, 0.22, 0.22), (60, 0.2, 0.2)],
    [(45, 0.78, 0.78)],
    [(45, 0.05, 0.08), (60, 0.02, 0.02), (60, 0.1, 0.1)],
    [(30, 0.65, 0.7), (45, 0.8, 0.8), (60, 0.92, 1.0)],
    [(3, 0.55, 0.57), (6, 0.55, 0.55), (6, 0.67, 0.68), (9, 0.6, 0.6), (9, 0.73, 0.73),
     (15, 0.58, 0.58), (15, 0.72, 0.78), (15, 0.85, 0.85), (21, 0.55, 0.6), (21, 0.72, 0.72),
     (21, 1.0, 1.0), (30, 0.55, 0.55), (30, 0.72, 0.73), (30, 0.92, 0.92), (45, 0.22, 0.22)],
    [],
    [],
    [(21, 0.13, 0.13), (45, 0.02, 0.02), (45, 0.08, 0.1)],
    [(3, 0.55, 0.6), (6, 0.8, 0.8), (15, 0.55, 0.75), (21, 0.58, 0.95), (30, 0.55, 0.9),
     (45, 0.55, 0.95)],
    [(9, 0.22, 0.22), (15, 0.25, 0.25)],
    [],
]
# curva ajustada (negra) en cada abundancia
b_fit = [
    [0.1, 0.0, 0.0, 0.0, 0.0, 0.0, 0.0, 0.12, 0.24],
    [0.21, 0.17, 0.15, 0.14, 0.14, 0.14, 0.13, 0.14, 0.13],
    [1.0, 0.06, 0.14, 0.14, 0.13, 0.13, 0.12, 0.14, 0.15],
    [0.0, 0.45, 0.6, 0.66, 0.72, 0.76, 0.8, 0.74, 0.67],
    [0.0, 0.01, 0.03, 0.04, 0.08, 0.1, 0.13, 0.36, 0.46],
    [0.0, 0.04, 0.07, 0.11, 0.2, 0.29, 0.38, 0.48, 0.54],
    [0.03, 0.1, 0.15, 0.19, 0.25, 0.29, 0.32, 0.36, 0.4],
    [0.02, 0.19, 0.18, 0.18, 0.21, 0.22, 0.19, 0.05, 0.04],
    [0.0, 0.02, 0.05, 0.09, 0.17, 0.26, 0.36, 0.45, 0.45],
    [0.01, 0.02, 0.04, 0.07, 0.13, 0.21, 0.31, 0.43, 0.5],
    [0.0, 0.04, 0.08, 0.14, 0.25, 0.38, 0.53, 0.61, 0.55],
    [0.0, 0.22, 0.33, 0.35, 0.35, 0.37, 0.38, 0.4, 0.41],
    [0.01, 0.4, 0.47, 0.5, 0.55, 0.59, 0.62, 0.65, 0.68],
    [1.0, 0.38, 0.32, 0.3, 0.32, 0.34, 0.37, 0.43, 0.48],
]
b_band = [0.015, 0.025, 0.015, 0.02, 0.02, 0.015, 0.015, 0.02, 0.02, 0.015, 0.02, 0.02, 0.015, 0.02]

# ---- Maquetacion ----
fig = plt.figure(figsize=(W / 100, H / 100), dpi=100)

BORDER = "#8C8C8C"
PANEL_LEFT = [104, 242, 380, 517, 654, 792, 929]
PANEL_W = 132
STRIP_H = 27


def caja(left, top, width, height):
    return fig.add_axes([left / W, 1 - (top + height) / H, width / W, height / H])


def panel(left, top, plot_h, title, first_col, bottom_row, ylim):
    strip = caja(left, top, PANEL_W, STRIP_H)
    strip.set_facecolor("#D9D9D9")
    strip.set_xticks([])
    strip.set_yticks([])
    for s in strip.spines.values():
        s.set_color(BORDER)
        s.set_linewidth(1.0)
    strip.text(0.5, 0.46, title, ha="center", va="center", fontsize=12.3,
               color="#1A1A1A", transform=strip.transAxes)

    ax = caja(left, top + STRIP_H, PANEL_W, plot_h)
    ax.set_xlim(-3, 63)
    ax.set_ylim(*ylim)
    for s in ax.spines.values():
        s.set_color(BORDER)
        s.set_linewidth(1.0)
    ax.set_xticks([0, 20, 40, 60])
    ax.set_yticks([0, 0.25, 0.5, 0.75, 1.0])
    ax.tick_params(direction="out", length=3, width=0.8, color="#4D4D4D",
                   labelcolor="#4D4D4D", labelsize=14.5, pad=2)
    if first_col:
        ax.set_yticklabels(["0.00", "0.25", "0.50", "0.75", "1.00"])
    else:
        ax.tick_params(axis="y", length=0, labelleft=False)
    if bottom_row:
        ax.set_xticklabels(["0", "20", "40", "60"])
    else:
        ax.tick_params(axis="x", length=0, labelbottom=False)
    return ax


rows_a = [(35, 115), (184, 116)]
rows_b = [(421, 115), (571, 114)]
ylim_a = (-0.185, 1.135)
ylim_b = (-0.065, 1.075)

# Panel A
for k, curvas in enumerate(a_panels):
    r, c = divmod(k, 7)
    top, ph = rows_a[r]
    ax = panel(PANEL_LEFT[c], top, ph, index_names[k], c == 0, r == 1, ylim_a)
    for i, ys in enumerate(curvas):
        ax.plot(abund_single, ys, color=sonotype_colors[i], lw=1.7, solid_capstyle="round",
                solid_joinstyle="round")

# Panel B
for k in range(14):
    r, c = divmod(k, 7)
    top, ph = rows_b[r]
    ax = panel(PANEL_LEFT[c], top, ph, index_names[k], c == 0, r == 1, ylim_b)
    col = multi_colors[k]
    for x, lo, hi in zip(abund_multi, b_low[k], b_high[k]):
        if hi > lo:
            ax.vlines(x, lo, hi, colors=col, lw=4.6, alpha=0.85, capstyle="round")
        else:
            ax.scatter([x], [lo], s=24, color=col, alpha=0.75, lw=0)
    for x, lo, hi in b_extra[k]:
        if hi > lo:
            ax.vlines(x, lo, hi, colors=col, lw=4.6, alpha=0.7, capstyle="round")
        else:
            ax.scatter([x], [lo], s=24, color=col, alpha=0.65, lw=0)
    fit = b_fit[k]
    ax.fill_between(abund_multi, [v - b_band[k] for v in fit], [v + b_band[k] for v in fit],
                    color="#999999", alpha=0.45, lw=0)
    ax.plot(abund_multi, fit, color="black", lw=1.7)

# Textos de ejes
fig.text(11 / W, 1 - 20 / H, "A", fontsize=17, ha="left", va="center")
fig.text(11 / W, 1 - 409 / H, "B", fontsize=17, ha="left", va="center")
fig.text(40 / W, 1 - 193 / H, "Acoustic Index", fontsize=17, rotation=90, ha="center", va="center")
fig.text(40 / W, 1 - 580 / H, "Acoustic Index", fontsize=17, rotation=90, ha="center", va="center")
fig.text(582 / W, 1 - 367 / H, "Single Sonotype Abundance", fontsize=17, ha="center", va="center")
fig.text(578 / W, 1 - 752 / H, "Multi-sonotype Abundance", fontsize=17, ha="center", va="center")

# Leyenda
leg = caja(1075, 70, 110, 250)
leg.set_xlim(1075, 1185)
leg.set_ylim(320, 70)
leg.axis("off")
leg.text(1082, 87, "Sonotype", fontsize=16.5, ha="left", va="center")
for i, (nombre, color) in enumerate(zip(sonotypes, sonotype_colors)):
    c, r = divmod(i, 10)
    y = 115 + r * 21.3
    x0 = 1083 + c * 44
    leg.plot([x0, x0 + 17], [y, y], color=color, lw=1.9)
    leg.text(x0 + 27, y, nombre, fontsize=9, ha="left", va="center")

fig.savefig("out.png", dpi=100)
